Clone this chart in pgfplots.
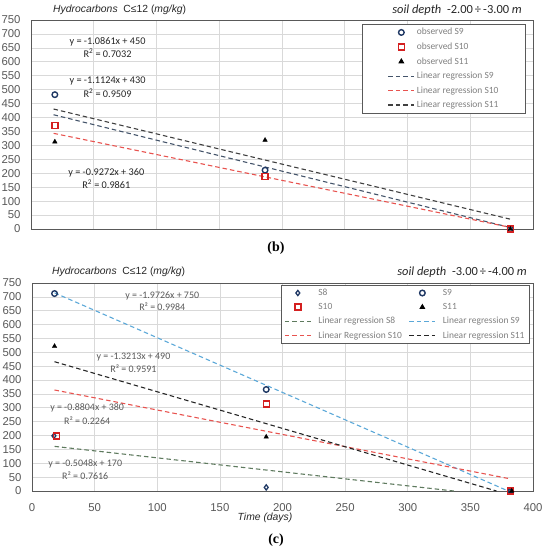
\documentclass[border=0pt]{standalone}
\usepackage{fontspec}
\setmainfont{Liberation Sans}
\newfontfamily\calfont{Carlito}
\newfontfamily\serfont{Liberation Serif}
\usepackage{pgfplots}
\pgfplotsset{compat=1.18}
\definecolor{gridc}{HTML}{D9D9D9}
\definecolor{framec}{HTML}{595959}
\definecolor{tickc}{HTML}{595959}
\definecolor{legtext}{HTML}{808080}
\definecolor{navy}{HTML}{1F3864}
\definecolor{redm}{HTML}{D42020}
\definecolor{lrnine}{HTML}{44546A}
\definecolor{lrred}{HTML}{E8534F}
\definecolor{lrdark}{HTML}{404040}
\definecolor{lrgreen}{HTML}{5E7A5E}
\definecolor{lrlblue}{HTML}{5BA8D8}
\definecolor{lrblack}{HTML}{262626}
\pgfplotsset{
  mk/.style={only marks, legend image code/.code={\draw[mark repeat=2,mark phase=2,##1] plot coordinates {(0bp,0bp)(13bp,0bp)(26bp,0bp)};}},
  ln/.style={line width=1.1pt, dash pattern=on 4.5bp off 3bp, no marks, legend image code/.code={\draw[##1] (0bp,0bp) -- (26bp,0bp);}},
  base/.style={
    scale only axis, anchor=south west,
    xmin=0, xmax=400, ymin=0, ymax=750,
    xtick={0,50,...,400}, ytick={0,50,...,750},
    grid=major, grid style={gridc, line width=0.7pt},
    axis line style={framec, line width=0.9pt},
    major tick length=0pt,
    tick label style={font=\fontsize{11.4}{13}\selectfont, text=tickc},
    yticklabel style={xshift=-7bp},
    xticklabel style={yshift=-9bp},
    /pgf/number format/assume math mode=true,
    clip=false,
  },
}
\begin{document}
\begin{tikzpicture}
\useasboundingbox (0,0) rectangle (545bp,550bp);
% ---------------- panel (b)
\begin{axis}[base, at={(31bp,321bp)}, width=502bp, height=209bp,
  xticklabels={},
  legend style={at={(0.986,0.981)}, anchor=north east, draw=framec, line width=0.9pt,
    font=\calfont\fontsize{9.5}{11}\selectfont, text=legtext, cells={anchor=west},
    row sep=2.5bp, inner xsep=25bp, inner ysep=2bp},
]
\addplot[mk, mark=o, mark size=2.8bp, draw=navy, line width=1.4pt] coordinates {(19,482) (186.5,211) (382,0)};
\addlegendentry{observed S9}
\addplot[mk, mark=square, mark size=3bp, draw=redm, line width=1.4pt] coordinates {(19,372) (186.5,188) (382,0)};
\addlegendentry{observed S10}
\addplot[mk, mark=triangle*, mark size=2.6bp, draw=black, fill=black] coordinates {(19,313) (186.5,319) (382,0)};
\addlegendentry{observed S11}
\addplot[ln, lrnine] coordinates {(18,410) (382,5.1)};
\addlegendentry{Linear regression S9}
\addplot[ln, lrred] coordinates {(18,343.3) (382,5.8)};
\addlegendentry{Linear regression S10}
\addplot[ln, lrdark] coordinates {(18,430.5) (382,35.1)};
\addlegendentry{Linear regression S11}
\begin{scope}[font=\calfont\fontsize{10.3}{12}\selectfont, text=lrblack]
\node at (axis cs:61,671) {y = -1.0861x + 450};
\node at (axis cs:61,630) {R\textsuperscript{2} = 0.7032};
\node at (axis cs:61,531) {y = -1.1124x + 430};
\node at (axis cs:61,488) {R\textsuperscript{2} = 0.9509};
\node at (axis cs:60,201) {y = -0.9272x + 360};
\node at (axis cs:60,161) {R\textsuperscript{2} = 0.9861};
\end{scope}
\end{axis}
% ---------------- panel (c)
\begin{axis}[base, at={(32bp,59bp)}, width=501bp, height=208bp,
  legend columns=2,
  legend style={at={(0.994,0.990)}, anchor=north east, draw=framec, line width=0.9pt,
    font=\calfont\fontsize{9.5}{11}\selectfont, text=legtext, cells={anchor=west},
    row sep=2.4bp, column sep=5bp, inner xsep=3bp, inner ysep=1.5bp},
]
\addplot[mk, mark=diamond, mark size=2.6bp, draw=navy, line width=1.3pt] coordinates {(17.5,199) (187,13) (382,0)};
\addlegendentry{S8}
\addplot[mk, mark=o, mark size=2.8bp, draw=navy, line width=1.4pt] coordinates {(18,712) (187,366) (382,0)};
\addlegendentry{S9}
\addplot[mk, mark=square, mark size=3bp, draw=redm, line width=1.4pt] coordinates {(19.5,199) (187,314) (382,0)};
\addlegendentry{S10}
\addplot[mk, mark=triangle*, mark size=2.6bp, draw=black, fill=black] coordinates {(18,522) (187,195) (383,0)};
\addlegendentry{S11}
\addplot[ln, lrgreen] coordinates {(18,160.9) (336.8,0)};
\addlegendentry{Linear regression S8}
\addplot[ln, lrlblue] coordinates {(18,714.5) (380.2,0)};
\addlegendentry{Linear regression S9}
\addplot[ln, lrred] coordinates {(18,364.2) (382,43.7)};
\addlegendentry{Linear Regression S10}
\addplot[ln, lrblack] coordinates {(18,466.2) (370.8,0)};
\addlegendentry{Linear regression S11}
\begin{scope}[font=\calfont\fontsize{10}{11}\selectfont, text=tickc]
\node at (axis cs:104,704) {y = -1.9726x + 750};
\node at (axis cs:104,663) {R² = 0.9984};
\node at (axis cs:81,484) {y = -1.3213x + 490};
\node at (axis cs:81,441) {R² = 0.9591};
\node at (axis cs:44,298) {y = -0.8804x + 380};
\node at (axis cs:44,253) {R² = 0.2264};
\node at (axis cs:42.5,97) {y = -0.5048x + 170};
\node at (axis cs:42.5,54) {R² = 0.7616};
\end{scope}
\end{axis}
% ---------------- texts outside
\node[anchor=west, inner sep=0pt, font=\fontsize{10.4}{12}\selectfont, text=lrblack] at (53bp,540.5bp) {\itshape Hydrocarbons\upshape\ \ C≤12 (\textit{mg/kg})};
\node[anchor=east, inner sep=0pt, font=\calfont\fontsize{12.5}{14}\selectfont, text=lrblack] at (522bp,540bp) {\itshape soil depth\upshape\ \ -2.00\,÷\,-3.00\ \textit{m}};
\node[font=\serfont\bfseries\fontsize{14}{16}\selectfont] at (276bp,302bp) {(b)};
\node[anchor=west, inner sep=0pt, font=\fontsize{10.4}{12}\selectfont, text=lrblack] at (52bp,278bp) {\itshape Hydrocarbons\upshape\ \ C≤12 (\textit{mg/kg})};
\node[anchor=east, inner sep=0pt, font=\calfont\fontsize{12.5}{14}\selectfont, text=lrblack] at (527bp,278bp) {\itshape soil depth\upshape\ \ -3.00\,÷\,-4.00\ \textit{m}};
\node[font=\itshape\fontsize{10.4}{12}\selectfont, text=lrblack] at (265bp,32bp) {Time (days)};
\node[font=\serfont\bfseries\fontsize{14}{16}\selectfont] at (276bp,10bp) {(c)};
\end{tikzpicture}
\end{document}
